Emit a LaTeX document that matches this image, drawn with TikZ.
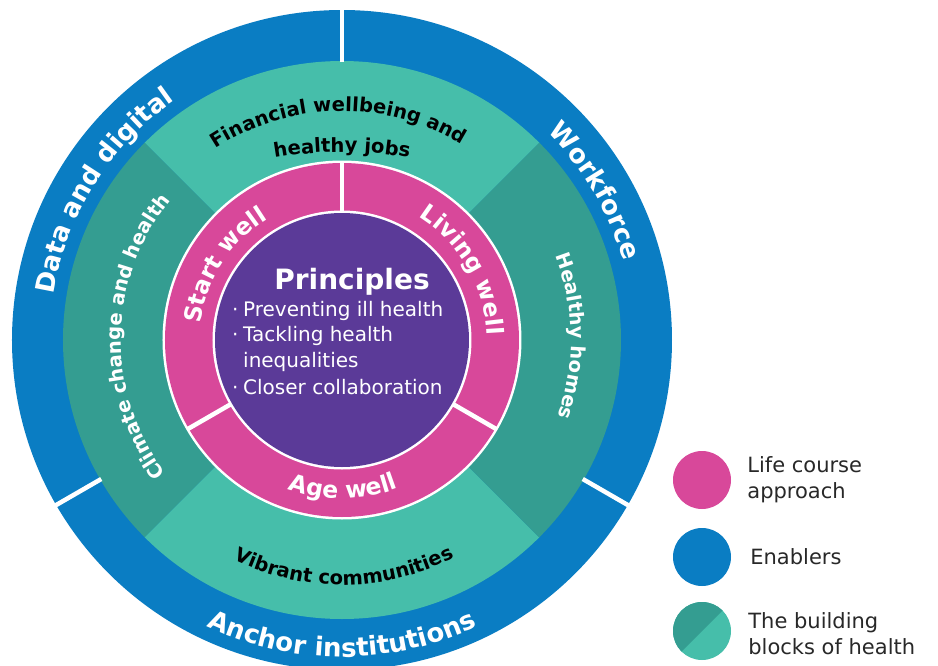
\documentclass[tikz,border=0pt]{standalone}
\usepackage{fontspec}
\setmainfont{DejaVu Sans}
\usepackage{xcolor}
\usepackage{tikz}
\usetikzlibrary{positioning,decorations.text}

\definecolor{enabler}{RGB}{10,125,195}
\definecolor{lightteal}{RGB}{70,190,170}
\definecolor{darkteal}{RGB}{52,157,145}
\definecolor{lifecourse}{RGB}{216,72,154}
\definecolor{principle}{RGB}{91,58,152}
\definecolor{keyink}{RGB}{40,40,40}

\tikzset{
    gap/.style={draw=white, line width=4.5pt},
    bluelabel/.style={decorate, decoration={text along path, text align=center, text color=white, text={|\fontsize{26}{26}\selectfont\bfseries|#1}}},
    pinklabel/.style={decorate, decoration={text along path, text align=center, text color=white, text={|\fontsize{23.5}{23.5}\selectfont\bfseries|#1}}},
    teallabel/.style={decorate, decoration={text along path, text align=center, text color=white, text={|\fontsize{19.5}{19.5}\selectfont\bfseries|#1}}},
    blocklabel/.style={decorate, decoration={text along path, text align=center, text color=black, text={|\fontsize{19.5}{19.5}\selectfont\bfseries|#1}}},
    keydot/.style={circle, minimum size=58pt, inner sep=0pt},
    keytext/.style={inner sep=0pt, align=left, text=keyink, font=\fontsize{21}{26}\selectfont}
}

\begin{document}
\begin{tikzpicture}[x=1pt,y=1pt]
    \useasboundingbox (-342,-325) rectangle (596,340);
    \coordinate (hub) at (0,0);
    % enablers
    \fill[enabler] (hub) circle (330);
    % building blocks of health
    \fill[lightteal] (hub) -- (45:279) arc[start angle=45, end angle=135, radius=279] -- cycle;
    \fill[darkteal] (hub) -- (135:279) arc[start angle=135, end angle=225, radius=279] -- cycle;
    \fill[lightteal] (hub) -- (225:279) arc[start angle=225, end angle=315, radius=279] -- cycle;
    \fill[darkteal] (hub) -- (315:279) arc[start angle=315, end angle=405, radius=279] -- cycle;
    \draw[gap] (90:278) -- (90:332);
    \draw[gap] (210:278) -- (210:332);
    \draw[gap] (330:278) -- (330:332);
    % life course
    \fill[white] (hub) circle (179.5);
    \fill[lifecourse] (hub) circle (177);
    \draw[gap] (90:126) -- (90:179);
    \draw[gap] (210:126) -- (210:179);
    \draw[gap] (330:126) -- (330:179);
    \fill[white] (hub) circle (129.5);
    \fill[principle] (hub) circle (127);

    % ring labels
    \path[bluelabel={Data and digital}] (hub) ++(188:292) arc[start angle=188, end angle=108, radius=292];
    \path[bluelabel={Workforce}] (hub) ++(60.5:292) arc[start angle=60.5, end angle=0.5, radius=292];
    \path[bluelabel={Anchor institutions}] (hub) ++(229.5:317) arc[start angle=229.5, end angle=310.5, radius=317];
    \path[teallabel={Climate change and health}] (hub) ++(224:221) arc[start angle=224, end angle=134, radius=221];
    \path[teallabel={Healthy homes}] (hub) ++(36:229) arc[start angle=36, end angle=-34, radius=229];
    \path[blocklabel={Financial wellbeing and}] (hub) ++(131:229) arc[start angle=131, end angle=51, radius=229];
    \coordinate (jobsfocus) at (0,-205);
    \path[blocklabel={healthy jobs}] (jobsfocus) ++(105:393) arc[start angle=105, end angle=75, radius=393];
    \path[blocklabel={Vibrant communities}] (hub) ++(235.5:245) arc[start angle=235.5, end angle=305.5, radius=245];
    \path[pinklabel={Start well}] (hub) ++(182.5:142) arc[start angle=182.5, end angle=112.5, radius=142];
    \path[pinklabel={Living well}] (hub) ++(65:145) arc[start angle=65, end angle=-5, radius=145];
    \path[pinklabel={Age well}] (hub) ++(240.5:158.5) arc[start angle=240.5, end angle=300.5, radius=158.5];

    % principles
    \node(principles) [text=white, inner sep=0pt, font=\fontsize{28}{28}\selectfont\bfseries] at (10,58) {Principles};
    \node(aims) [anchor=west, text=white, inner sep=0pt, align=left, font=\fontsize{20}{25.7}\selectfont] at (-110,-8) {
        \makebox[11pt][l]{·}Preventing ill health\\
        \makebox[11pt][l]{·}Tackling health\\
        \hspace*{11pt}inequalities\\[1.5pt]
        \makebox[11pt][l]{·}Closer collaboration
    };

    % key
    \node(keylife) [keydot, fill=lifecourse] at (360,-140) {};
    \node(keyenable) [keydot, fill=enabler] at (360,-217) {};
    \node(keyblocks) [keydot, fill=lightteal, path picture={\fill[darkteal] (path picture bounding box.south west) -- (path picture bounding box.north west) -- (path picture bounding box.north east) -- cycle;}] at (360,-291) {};
    \node(lifetext) [keytext, right=16pt of keylife] {Life course\\approach};
    \node(enabletext) [keytext, right=19pt of keyenable] {Enablers};
    \node(blockstext) [keytext, right=17pt of keyblocks, yshift=-3pt] {The building\\blocks of health};
\end{tikzpicture}
\end{document}
